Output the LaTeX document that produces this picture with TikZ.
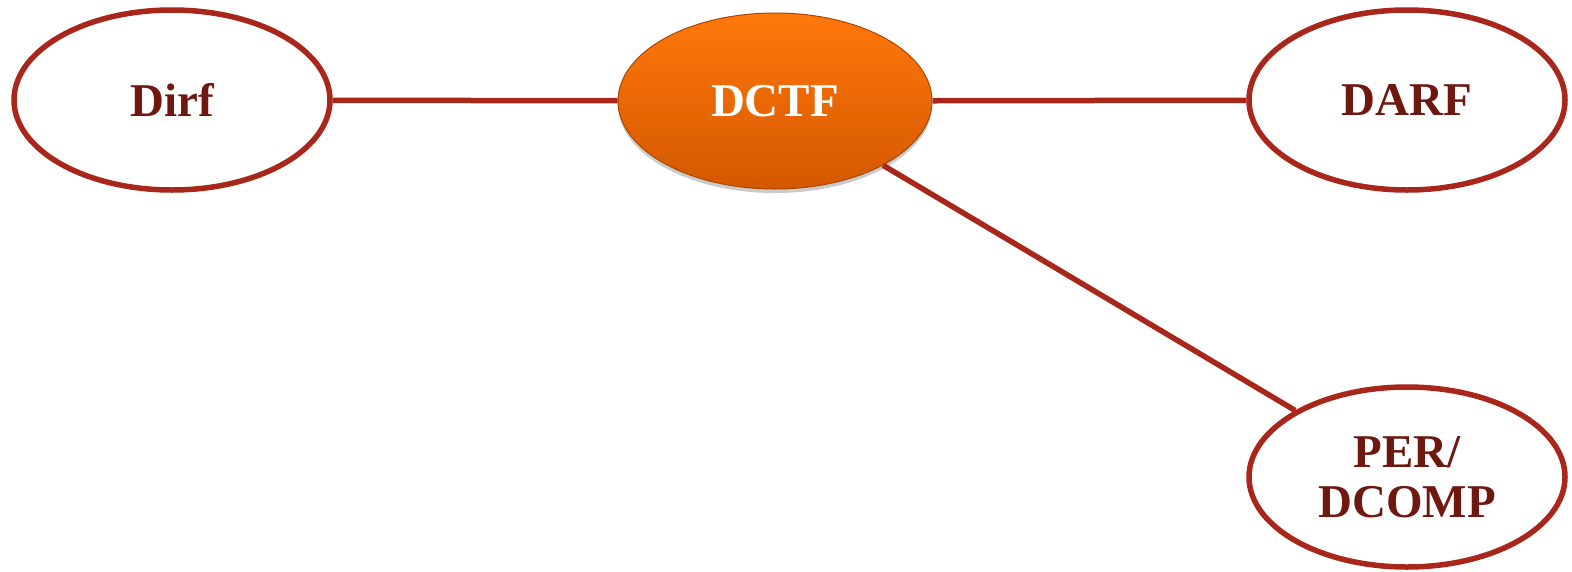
\documentclass[tikz,border=0pt]{standalone}
\usepackage{fontspec}
\setmainfont{Liberation Serif}
\usetikzlibrary{shapes.geometric,shadows}
\definecolor{linered}{HTML}{A8271A}
\definecolor{txtred}{HTML}{6E1810}
\definecolor{orangetop}{HTML}{FF780A}
\definecolor{orangebot}{HTML}{D45800}
\tikzset{
  outerell/.style={ellipse, draw=linered, line width=5.5pt, fill=white, inner sep=0pt,
    minimum width=316pt, minimum height=180pt, text=txtred, align=center,
    font=\fontsize{47}{50}\selectfont\bfseries},
  centerell/.style={ellipse, draw=orangebot!80!black, line width=1pt, top color=orangetop, bottom color=orangebot,
    inner sep=0pt, minimum width=314pt, minimum height=176pt, text=white,
    font=\fontsize{47}{50}\selectfont\bfseries,
    drop shadow={shadow xshift=0pt, shadow yshift=-4pt, opacity=0.35, fill=black!60}},
  conn/.style={draw=linered, line width=5.5pt}
}
\begin{document}
\begin{tikzpicture}[x=1pt,y=-1pt]
\useasboundingbox (0,0) rectangle (1572,571);
\node[centerell] (dctf) at (775,101) {DCTF};
\node[outerell] (dirf) at (172,100) {Dirf};
\node[outerell] (darf) at (1407,100) {DARF};
\node[outerell] (per) at (1407,477) {PER/\\DCOMP};
\draw[conn] (dirf) -- (dctf);
\draw[conn] (dctf) -- (darf);
\draw[conn] (dctf) -- (per);
\end{tikzpicture}
\end{document}
